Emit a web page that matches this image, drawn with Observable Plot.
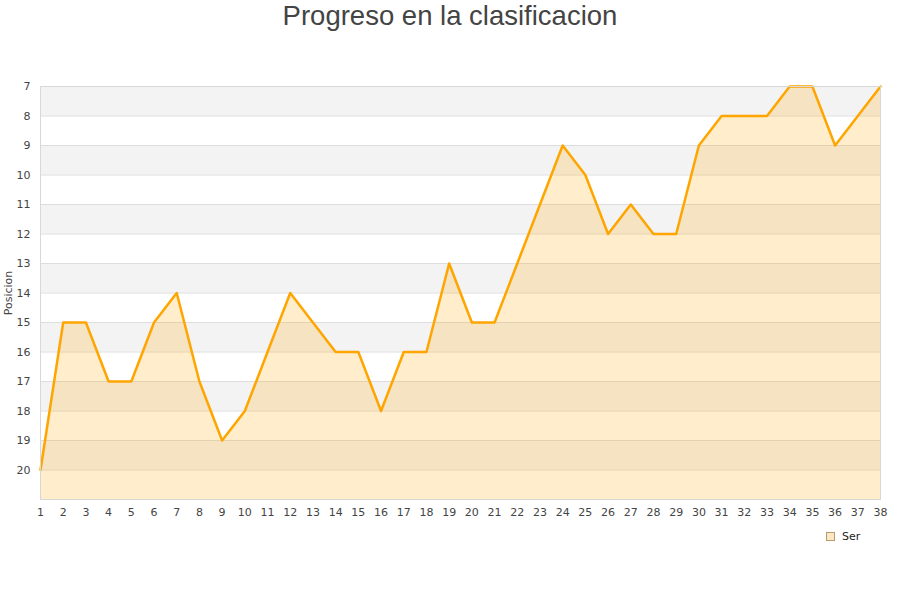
<!DOCTYPE html>
<html>
<head>
<meta charset="utf-8">
<script src="https://cdn.jsdelivr.net/npm/d3@7"></script>
<script src="https://cdn.jsdelivr.net/npm/@observablehq/plot@0.6"></script>
<style>
  body { margin: 0; background: white; position: relative; width: 900px; height: 600px; overflow: hidden; }
  #title { height: 40px; text-align: center; font: 27.5px "Liberation Sans", Arial, sans-serif; color: #444; line-height: 32px; }
  #legend { position: absolute; left: 826px; top: 530px; font: 11px "DejaVu Sans", sans-serif; color: #222; display: flex; align-items: center; }
  #legend span.sw { display: inline-block; width: 7px; height: 7px; border: 1px solid #b89a6c; background: #fde8c5; margin-right: 7px; }
</style>
</head>
<body>
<div id="title">Progreso en la clasificacion</div>
<div id="chart"></div>
<div id="legend"><span class="sw"></span>Ser</div>
<script>
// jornadas y posicion en cada una
const jornadas = d3.range(1, 39);
const posiciones = [20, 15, 15, 17, 17, 15, 14, 17, 19, 18, 16, 14, 15, 16, 16, 18, 16, 16, 13, 15,
  15, 13, 11, 9, 10, 12, 11, 12, 12, 9, 8, 8, 8, 7, 7, 9, 8, 7];
const ticksY = d3.range(7, 21);
const bandas = [7, 9, 11, 13, 15, 17, 19];

const data = jornadas.map((j, i) => ({ jornada: j, pos: posiciones[i] }));

const chart = Plot.plot({
  width: 900,
  height: 560,
  marginTop: 46,
  marginBottom: 101,
  marginLeft: 40,
  marginRight: 20,
  style: { fontFamily: "DejaVu Sans, sans-serif", fontSize: "11px", color: "#444" },
  x: { domain: [1, 38], ticks: jornadas, tickFormat: "d", tickSize: 0, tickPadding: 9, label: null },
  y: { domain: [7, 21], reverse: true, ticks: ticksY, tickFormat: "d", tickSize: 0, tickPadding: 10,
       label: "Posicion", labelAnchor: "center", labelArrow: "none", labelOffset: 36 },
  marks: [
    Plot.rect(bandas, { y1: (d) => d, y2: (d) => d + 1, fill: "#f3f3f3" }),
    Plot.ruleY(ticksY, { stroke: "#dddddd" }),
    Plot.areaY(data, { x: "jornada", y1: 21, y2: "pos", fill: "#ffa500", fillOpacity: 0.2 }),
    Plot.lineY(data, { x: "jornada", y: "pos", stroke: "#ffa500", strokeWidth: 2.5 }),
    Plot.frame({ stroke: "#d8d8d8" })
  ]
});

document.getElementById("chart").append(chart);
</script>
</body>
</html>
